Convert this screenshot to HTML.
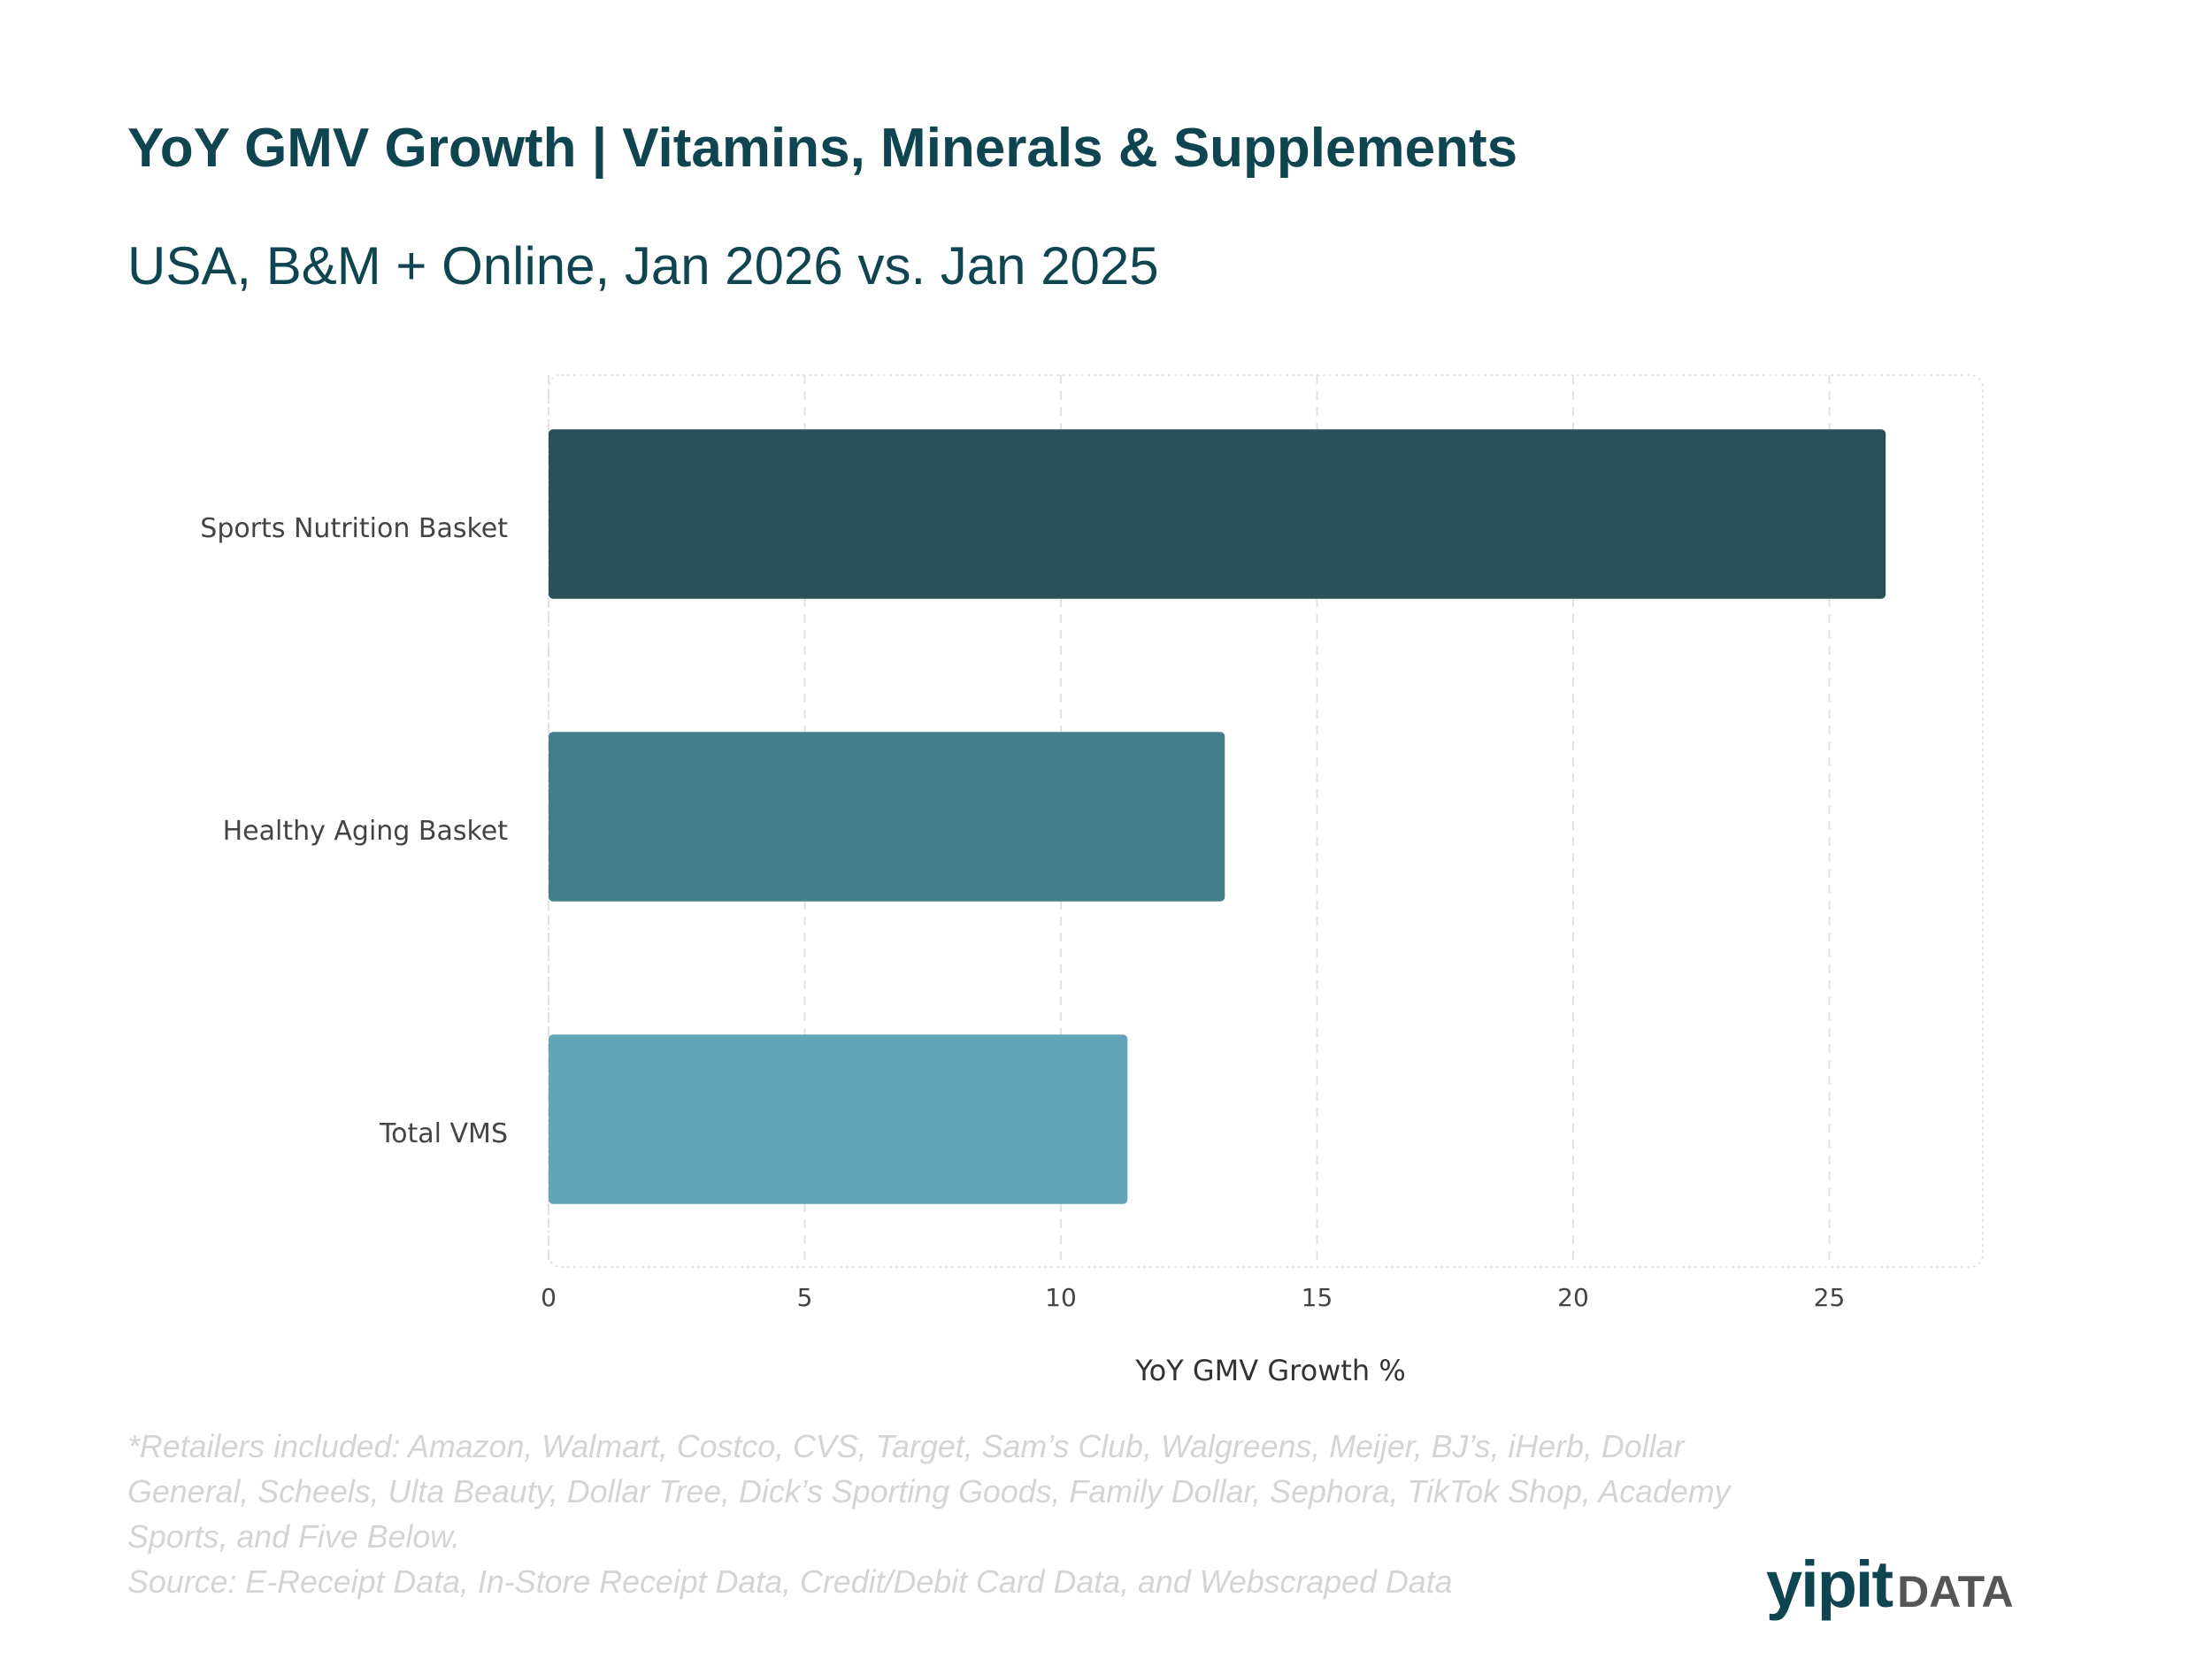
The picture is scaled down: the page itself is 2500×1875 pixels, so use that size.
<!DOCTYPE html>
<html><head><meta charset="utf-8"><style>
body{margin:0;background:#fff;width:2500px;height:1875px;overflow:hidden;font-family:"Liberation Sans",sans-serif;position:relative}
.t{position:absolute;white-space:nowrap}
</style></head><body>
<div class="t" style="left:144px;top:132px;font-size:62px;font-weight:bold;color:#0f4550">YoY GMV Growth | Vitamins, Minerals &amp; Supplements</div>
<div class="t" style="left:144px;top:266px;font-size:60px;color:#0f4550">USA, B&amp;M + Online, Jan 2026 vs. Jan 2025</div>
<svg id="chart" width="2500" height="1875" style="position:absolute;left:0;top:0"></svg>
<div class="t" style="left:144px;top:1610px;font-size:35.8px;line-height:51px;font-style:italic;color:#d4d4d4">*Retailers included: Amazon, Walmart, Costco, CVS, Target, Sam’s Club, Walgreens, Meijer, BJ’s, iHerb, Dollar<br>General, Scheels, Ulta Beauty, Dollar Tree, Dick’s Sporting Goods, Family Dollar, Sephora, TikTok Shop, Academy<br>Sports, and Five Below.<br>Source: E-Receipt Data, In-Store Receipt Data, Credit/Debit Card Data, and Webscraped Data</div>
<div class="t" style="left:1996px;top:1748px;"><span style="font-size:74px;font-weight:bold;color:#0f4550;letter-spacing:-2px">yipit</span><span style="font-size:50px;font-weight:bold;color:#555;margin-left:6px">DATA</span></div>
<script>
const categories=["Sports Nutrition Basket","Healthy Aging Basket","Total VMS"];
const values=[26.1,13.2,11.3];
const colors=["#2a505a","#437e8a","#63a5b8"];
const ticks=[0,5,10,15,20,25];
const svg=document.getElementById('chart');
const NS='http://www.w3.org/2000/svg';
const X0=620,X1=2241,Y0=424,Y1=1432,unit=57.9;
const x=v=>X0+v*unit;
const band=342;
const yc=i=>581+band*i;
const F='DejaVu Sans, sans-serif';
function mk(t,a){const e=document.createElementNS(NS,t);for(const k in a)e.setAttribute(k,a[k]);svg.appendChild(e);return e;}
let r=mk('rect',{x:X0,y:Y0,width:X1-X0,height:Y1-Y0,rx:14,fill:'none',stroke:'#e4e4e4','stroke-width':2,'stroke-dasharray':'3 4'});


ticks.forEach(t=>{
  const g=mk('line',{x1:x(t),x2:x(t),y1:Y0,y2:Y1,stroke:'#e2e2e2','stroke-width':2,'stroke-dasharray':'10 8'});
  
  
  const l=mk('text',{x:x(t),y:1476,'text-anchor':'middle','font-size':28,fill:'#444','font-family':F});
  l.textContent=t;
  
  
});
const bh=band*0.56;
categories.forEach((c,i)=>{
  const b=mk('rect',{x:X0,y:yc(i)-bh/2,width:x(values[i])-X0,height:bh,rx:5,fill:colors[i]});
  
  
  const l=mk('text',{x:574,y:yc(i)+26,'text-anchor':'end','font-size':30,fill:'#444','font-family':F});
  l.textContent=c;
  
  
});
const at=mk('text',{x:1436,y:1560,'text-anchor':'middle','font-size':32,fill:'#333','font-family':F});
at.textContent='YoY GMV Growth %';


</script>
</body></html>
